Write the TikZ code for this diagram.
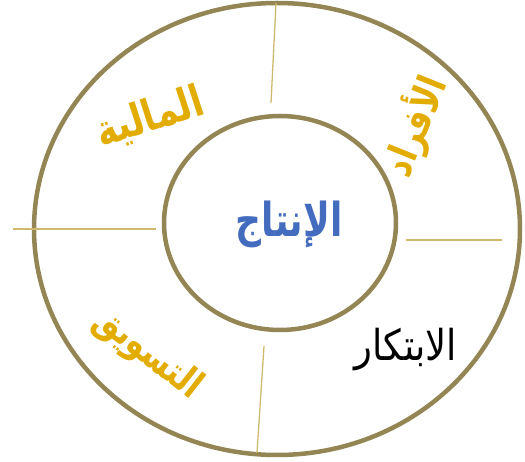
\documentclass[tikz,border=0pt]{standalone}
\usepackage{fontspec}
\newfontfamily\arabicfont[Script=Arabic]{DejaVu Sans}
\TeXXeTstate=1
\definecolor{oliwka}{RGB}{148,134,84}
\definecolor{zloto}{RGB}{226,172,0}
\definecolor{linia}{RGB}{206,186,110}
\definecolor{niebieski}{RGB}{68,108,190}

\begin{document}
\begin{tikzpicture}[x=1pt,y=-1pt]
\useasboundingbox (0,0) rectangle (525,462);

% Kola
\draw[oliwka, line width=4.5pt] (277,229) ellipse (243 and 226); % zewnetrzne
\draw[oliwka, line width=4.5pt] (280,223) ellipse (116 and 107); % wewnetrzne

% Linie podzialu
\draw[linia, line width=1.3pt] (276,3) -- (271,103);
\draw[linia, line width=1.3pt] (13,229) -- (156,229);
\draw[linia, line width=1.3pt] (406,240) -- (502,240);
\draw[linia, line width=1.3pt] (264,346) -- (257,453);

% Srodek
\node[text=niebieski, yscale=1.3, font=\arabicfont\bfseries\fontsize{36}{40}\selectfont] (srodek) at (289,224) {\beginR الإنتاج\endR};

% Segmenty
\node[text=zloto, rotate=18, yscale=1.25, font=\arabicfont\bfseries\fontsize{35}{40}\selectfont] (finanse) at (150,118) {\beginR المالية\endR};
\node[text=zloto, rotate=68, yscale=1.25, font=\arabicfont\bfseries\fontsize{32}{38}\selectfont] (ludzie) at (415,126) {\beginR الأفراد\endR};
\node[text=zloto, rotate=-38, yscale=1.25, font=\arabicfont\bfseries\fontsize{31}{36}\selectfont] (marketing) at (148,354) {\beginR التسويق\endR};
\node[text=black, yscale=1.15, font=\arabicfont\fontsize{37}{42}\selectfont] (innowacja) at (406,350) {\beginR الابتكار\endR};
\end{tikzpicture}
\end{document}
